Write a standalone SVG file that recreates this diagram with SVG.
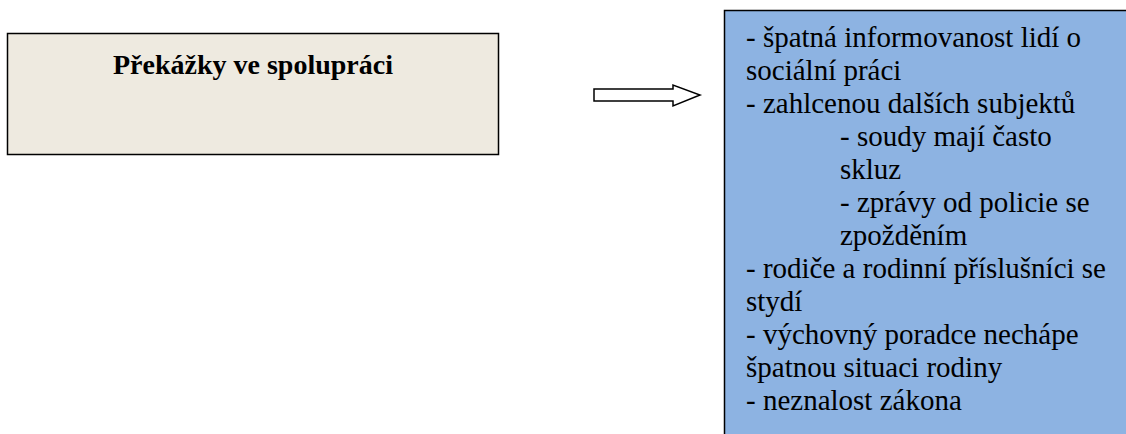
<svg xmlns="http://www.w3.org/2000/svg" width="1126" height="434" viewBox="0 0 1126 434">
  <style>
    .box { stroke: #000; stroke-width: 1.5; }
    .title { font-family: "Liberation Serif", "Times New Roman", serif; font-size: 28px; font-weight: bold; fill: #000; }
    .item { font-family: "Liberation Serif", "Times New Roman", serif; font-size: 29px; fill: #000; }
  </style>
  <rect width="1126" height="434" fill="#fff"/>
  <g id="node-prekazky">
    <rect class="box" x="7.5" y="33.5" width="491" height="121" fill="#EEEAE0"/>
    <text class="title" x="253" y="74" text-anchor="middle">Překážky ve spolupráci</text>
  </g>
  <g id="connectors">
    <!-- hollow block arrow pointing right -->
    <path d="M594,89 L673,89 L673,85 L700,95 L673,106 L673,101 L594,101 Z" fill="#fff" stroke="#000" stroke-width="1.5"/>
  </g>
  <g id="node-seznam">
    <rect class="box" x="724.5" y="10.5" width="410" height="440" fill="#8DB3E2"/>
    <text class="item">
      <tspan x="746" y="47">- špatná informovanost lidí o</tspan>
      <tspan x="746" y="80">sociální práci</tspan>
      <tspan x="746" y="113">- zahlcenou dalších subjektů</tspan>
      <tspan x="840" y="146">- soudy mají často</tspan>
      <tspan x="840" y="179">skluz</tspan>
      <tspan x="840" y="212">- zprávy od policie se</tspan>
      <tspan x="840" y="245">zpožděním</tspan>
      <tspan x="746" y="278">- rodiče a rodinní příslušníci se</tspan>
      <tspan x="746" y="311">stydí</tspan>
      <tspan x="746" y="344">- výchovný poradce nechápe</tspan>
      <tspan x="746" y="377">špatnou situaci rodiny</tspan>
      <tspan x="746" y="410">- neznalost zákona</tspan>
    </text>
  </g>
</svg>
